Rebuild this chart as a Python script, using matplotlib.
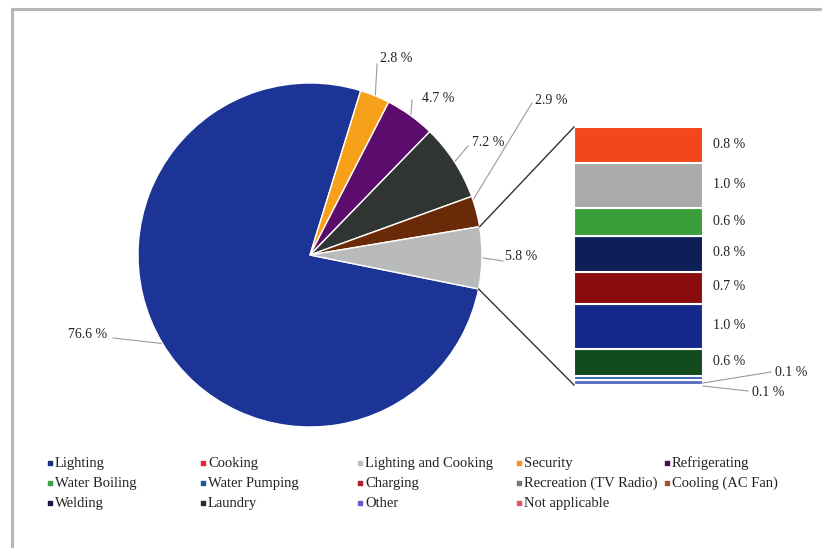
import numpy as np
import matplotlib
matplotlib.use('Agg')
import matplotlib.pyplot as plt

plt.rcParams['font.family'] = ['Liberation Serif', 'DejaVu Serif']

# pie slices (clockwise from the "other" bar-of-pie slice)
pie_names = ['Lighting', 'Security', 'Refrigerating', 'Laundry', 'Cooling (AC Fan)', 'Other']
pie_values = [76.6, 2.8, 4.7, 7.2, 2.9, 5.8]
pie_colors = ['#1b3496', '#f7a11a', '#5c0c6c', '#303533', '#6a2a08', '#b8babb']

# stacked bar (top to bottom)
bar_names = ['Cooking', 'Recreation (TV Radio)', 'Water Boiling', 'Welding', 'Charging',
             'Water Pumping', 'Lighting and Cooking', 'Other', 'Not applicable']
bar_values = [0.8, 1.0, 0.6, 0.8, 0.7, 1.0, 0.6, 0.1, 0.1]
bar_colors = ['#f2461b', '#a8aaab', '#3c9e3a', '#0e1f57', '#8b0c0c', '#15298c', '#104a1d',
              '#3d62b0', '#5a6fc0']

legend_names = ['Lighting', 'Cooking', 'Lighting and Cooking', 'Security', 'Refrigerating',
                'Water Boiling', 'Water Pumping', 'Charging', 'Recreation (TV Radio)', 'Cooling (AC Fan)',
                'Welding', 'Laundry', 'Other', 'Not applicable']
legend_colors = ['#1c2f7a', '#e8232f', '#bdbdbd', '#f7931e', '#4a0c4e',
                 '#3aa049', '#1c5a9a', '#b0202a', '#777777', '#a0522d',
                 '#141a4a', '#2b2b2b', '#6a5acd', '#e8506a']

W, H = 822, 548
fig = plt.figure(figsize=(W / 100, H / 100), dpi=100)
ax = fig.add_axes([0, 0, 1, 1])
ax.set_xlim(0, W)
ax.set_ylim(0, H)
ax.set_aspect('equal')
ax.axis('off')

def py(y):
    # pixel row -> axis y
    return H - y

# frame (left and top only)
ax.plot([12, 12, W], [0, py(9), py(9)], color='#b5b5b5', lw=2.2, solid_joinstyle='miter')

cx, cy, r = 310, py(255), 172
wedges, _ = ax.pie(pie_values, colors=pie_colors, startangle=-11.4, counterclock=False,
                   center=(cx, cy), radius=r, wedgeprops=dict(ec='white', lw=1.0))
ax.set_xlim(0, W)
ax.set_ylim(0, H)

def rim(theta, rr=r):
    t = np.radians(theta)
    return cx + rr * np.cos(t), cy + rr * np.sin(t)

# pie labels: (text x, text y, ha, line end x, line end y)
label_pos = [(107, 335, 'right', 113, 338),
             (380, 58, 'left', 377, 64),
             (422, 99, 'left', 412, 100),
             (472, 143, 'left', 468, 146),
             (535, 100, 'left', 532, 103),
             (505, 257, 'left', 503, 261)]
for w, v, (tx, ty, ha, lx, ly) in zip(wedges, pie_values, label_pos):
    mid = (w.theta1 + w.theta2) / 2
    if v == 2.9:
        mid = w.theta2 - 1
    x0, y0 = rim(mid, r + 1)
    ax.plot([x0, lx], [y0, py(ly)], color='#9a9a9a', lw=0.8)
    ax.text(tx, py(ty), f'{v} %', ha=ha, va='center', fontsize=10, color='#222222')

# stacked bar
bx0, bx1 = 574, 703
btop, bbot = 127, 385
scale = (bbot - btop) / sum(bar_values)
bottom = py(bbot)
vals_up = bar_values[::-1]
cols_up = bar_colors[::-1]
bars = ax.bar([(bx0 + bx1) / 2] * len(vals_up), [v * scale for v in vals_up],
              width=bx1 - bx0, bottom=np.concatenate([[0], np.cumsum(vals_up)[:-1]]) * scale + bottom,
              color=cols_up, edgecolor='white', linewidth=1.5)

# bar labels
for b, v in zip(bars, vals_up):
    if v >= 0.5:
        ax.text(713, b.get_y() + b.get_height() / 2 + 1, f'{v} %', ha='left', va='center',
                fontsize=10, color='#222222')
ax.plot([bx1, 771], [py(383), py(372)], color='#9a9a9a', lw=0.8)
ax.text(775, py(372), '0.1 %', ha='left', va='center', fontsize=10, color='#222222')
ax.plot([bx1, 748], [py(386), py(391)], color='#9a9a9a', lw=0.8)
ax.text(752, py(392), '0.1 %', ha='left', va='center', fontsize=10, color='#222222')

# connector lines from the "other" wedge to the bar
ow = wedges[-1]
x0, y0 = rim(ow.theta2)
ax.plot([x0, bx0], [y0, py(btop)], color='#333333', lw=1.0)
x0, y0 = rim(ow.theta1)
ax.plot([x0, bx0], [y0, py(bbot)], color='#333333', lw=1.0)

# legend, row-wise in 5 columns
col_x = [50, 203, 360, 519, 667]
row_y = [463, 483, 503]
for i, (name, c) in enumerate(zip(legend_names, legend_colors)):
    x = col_x[i % 5]
    y = py(row_y[i // 5])
    ax.scatter([x], [y], marker='s', s=9, color=c)
    ax.text(x + 5, y - 4, name, ha='left', va='baseline', fontsize=10.5, color='#222222')

fig.savefig('out.png', dpi=100, facecolor='white')
